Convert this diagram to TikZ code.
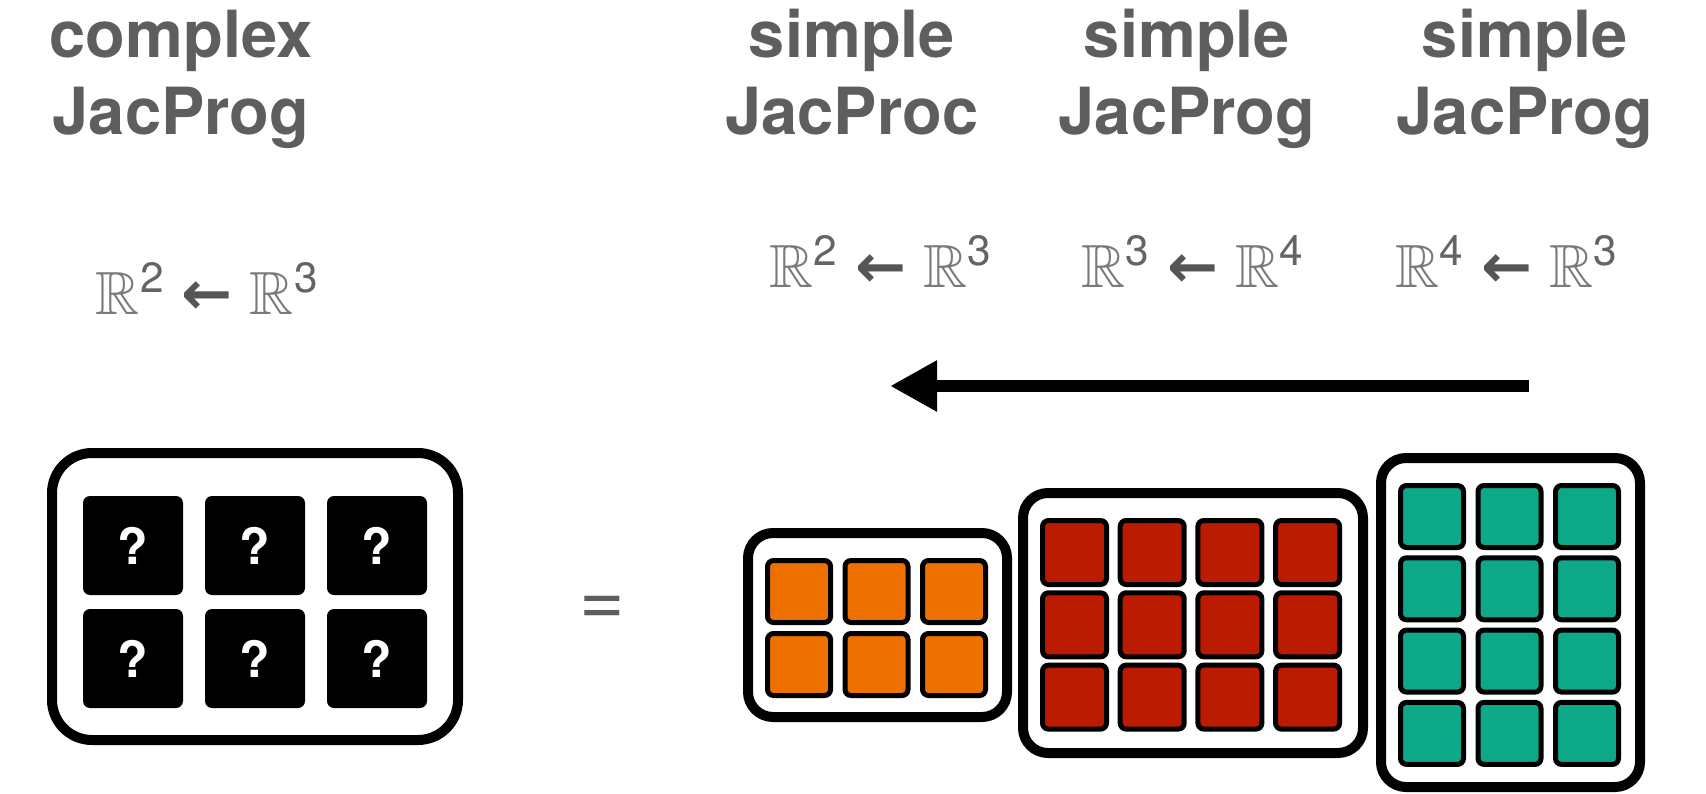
\documentclass[tikz,border=0pt]{standalone}
\usepackage{fontspec}
\setmainfont{TeX Gyre Heros}
\newfontfamily\arrowfont{DejaVu Sans}
\usepackage{amsmath,amssymb}
\usepackage{graphicx}
\usetikzlibrary{arrows.meta}

\definecolor{labelgray}{HTML}{5E5E5E}
\definecolor{mathgray}{HTML}{7A7A7A}
\definecolor{supgray}{HTML}{646464}
\definecolor{arrowgray}{HTML}{555555}
\definecolor{cellorange}{HTML}{EE7100}
\definecolor{cellred}{HTML}{BB1B00}
\definecolor{cellgreen}{HTML}{0CA888}

% signature label: R^a <- R^b
\newcommand{\supdigit}[1]{\text{\color{supgray}#1}}
\newcommand{\maparrow}{\mathrel{\text{\color{arrowgray}\arrowfont\bfseries ←}}}
\newcommand{\sigmap}[2]{\fontsize{20.74}{25}\selectfont\scalebox{2.94}{$\mathbb{R}^{\supdigit{#1}}\maparrow\mathbb{R}^{\supdigit{#2}}$}}

\tikzset{
  title/.style={font=\fontsize{65}{77}\selectfont\bfseries, text=labelgray, anchor=base, inner sep=0pt},
  maplabel/.style={text=mathgray, anchor=base, inner sep=0pt},
  frame/.style={draw=black, line width=10pt, fill=white},
  qcell/.style={fill=black, rounded corners=7pt, minimum width=100pt, minimum height=99pt,
    inner sep=0pt, text=white, font=\fontsize{50}{50}\selectfont\bfseries},
  jcell/.style={draw=black, line width=5pt, rounded corners=6pt, inner sep=0pt,
    minimum width=63pt, minimum height=62pt},
  ocell/.style={jcell, fill=cellorange},
  rcell/.style={jcell, fill=cellred, minimum width=64pt, minimum height=64pt},
  gcell/.style={jcell, fill=cellgreen},
}

\begin{document}
\begin{tikzpicture}[x=1pt, y=-1pt]
\useasboundingbox (0,0) rectangle (1706,794);

% headings
\node[title] (h1a) at (181,58) {complex};
\node[title] (h1b) at (181,135) {JacProg};
\node[title] (h2a) at (852,58) {simple};
\node[title] (h2b) at (852,135) {JacProc};
\node[title] (h3a) at (1187,58) {simple};
\node[title] (h3b) at (1187,135) {JacProg};
\node[title] (h4a) at (1525,58) {simple};
\node[title] (h4b) at (1525,135) {JacProg};

% signatures
\node[maplabel] (s1) at (207.5,315) {\sigmap{2}{3}};
\node[maplabel] (s2) at (881,288) {\sigmap{2}{3}};
\node[maplabel] (s3) at (1193,288) {\sigmap{3}{4}};
\node[maplabel] (s4) at (1507,288) {\sigmap{4}{3}};

% composition direction
\coordinate (arrS) at (1529,386);
\coordinate (arrE) at (890,386);
\draw[line width=12pt, -{Triangle[length=47pt,width=48pt]}] (arrS) -- (arrE);

% equals sign
\node[inner sep=0pt, anchor=base, text=labelgray, font=\fontsize{78}{78}\selectfont] (eq) at (602,625) {=};

% complex Jacobian: unknown entries
\draw[frame, rounded corners=40pt] (52,453) rectangle (458,740);
\foreach \c in {0,1,2}
  \foreach \r in {0,1}
    \node[qcell] (q\c\r) at ({133+122*\c},{545.5+113*\r}) {?};

% first factor: 2 x 3
\draw[frame, rounded corners=25pt] (748,533) rectangle (1007,717);
\foreach \c in {0,1,2}
  \foreach \r in {0,1}
    \node[ocell] (o\c\r) at ({799+77.5*\c},{591.5+73*\r}) {};

% second factor: 3 x 4
\draw[frame, rounded corners=25pt] (1023,493) rectangle (1363,753);
\foreach \c in {0,1,2,3}
  \foreach \r in {0,1,2}
    \node[rcell] (r\c\r) at ({1074.5+77.7*\c},{552.5+72.3*\r}) {};

% third factor: 4 x 3
\draw[frame, rounded corners=25pt] (1381,458) rectangle (1640,787);
\foreach \c in {0,1,2}
  \foreach \r in {0,1,2,3}
    \node[gcell] (g\c\r) at ({1432+77.5*\c},{516.5+72.3*\r}) {};
\end{tikzpicture}
\end{document}
